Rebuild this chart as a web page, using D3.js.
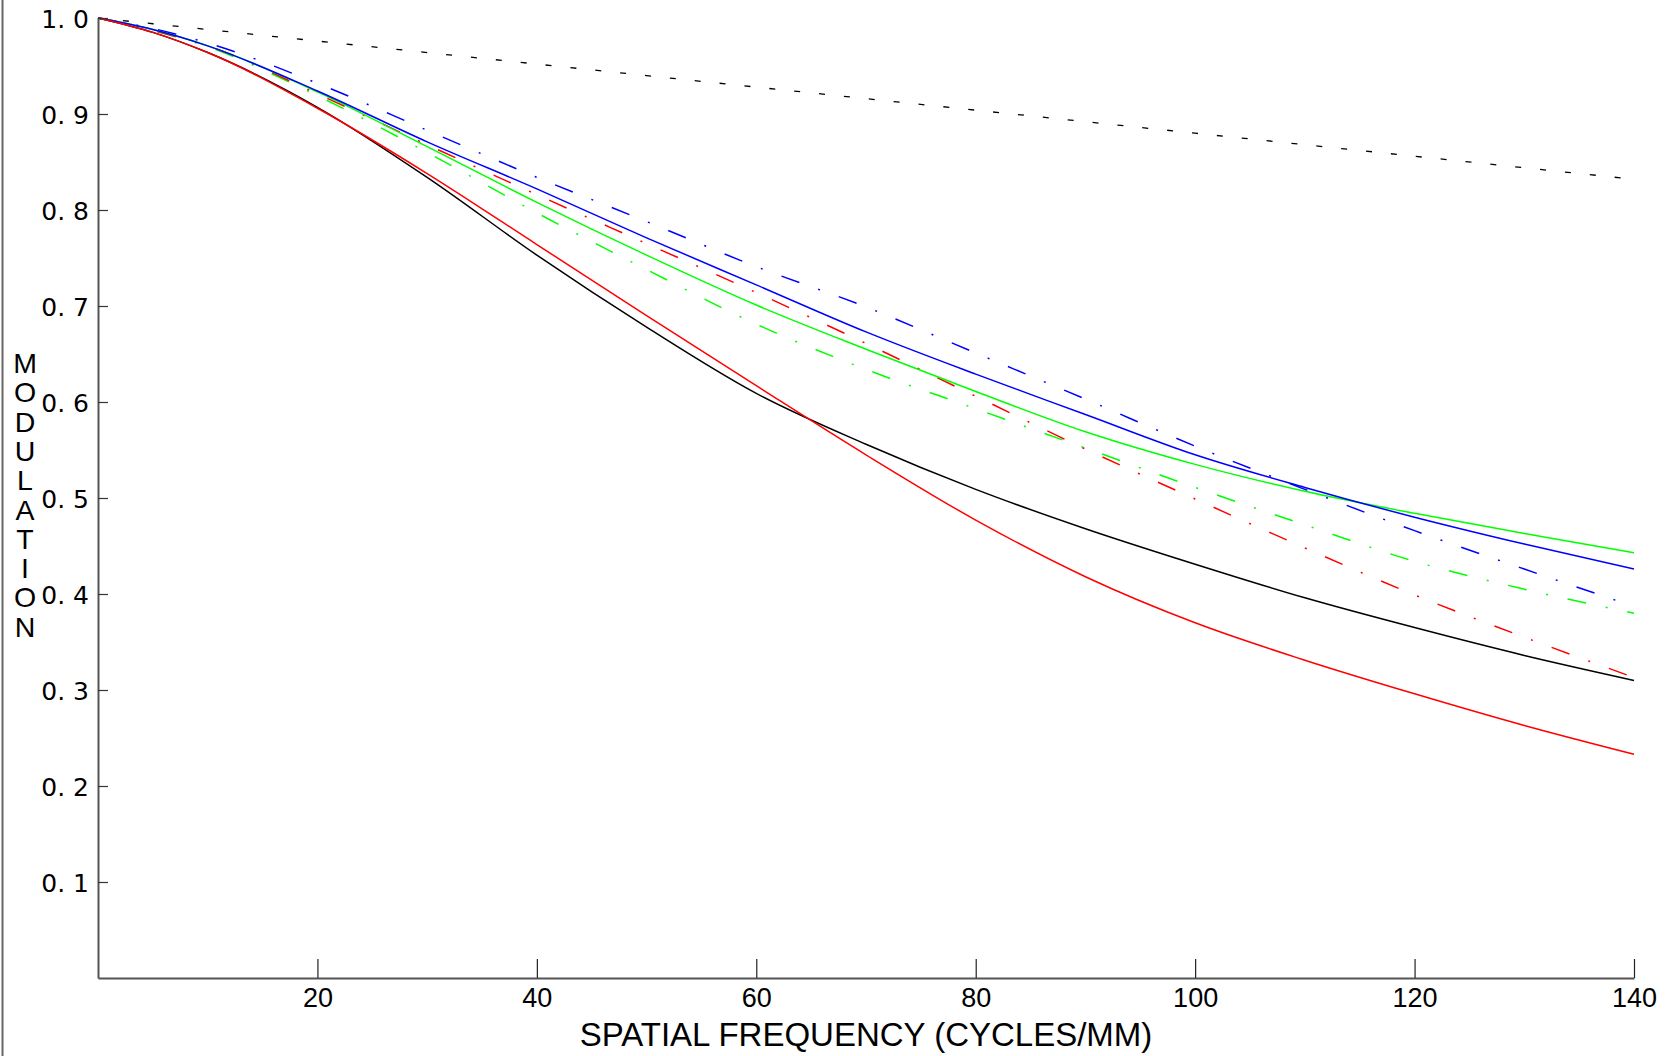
<!DOCTYPE html>
<html>
<head>
<meta charset="utf-8">
<script src="https://cdn.jsdelivr.net/npm/d3@7"></script>
<style>
  html, body { margin: 0; padding: 0; background: #fff; }
  svg { display: block; }
</style>
</head>
<body>
<div id="chart"></div>
<script>
// ---- data ----
const freqs = [0, 5, 10, 20, 30, 40, 50, 60, 70, 80, 90, 100, 110, 120, 130, 140];

const diffLimit   = [1.0, 0.994, 0.988, 0.976, 0.964, 0.952, 0.940, 0.928, 0.916, 0.904, 0.892, 0.880, 0.868, 0.856, 0.844, 0.832];
const blackSolid  = [1.0, 0.985, 0.964, 0.907, 0.834, 0.753, 0.678, 0.609, 0.556, 0.509, 0.468, 0.431, 0.396, 0.365, 0.336, 0.310];
const redSolid    = [1.0, 0.985, 0.964, 0.906, 0.838, 0.764, 0.690, 0.617, 0.545, 0.477, 0.418, 0.370, 0.331, 0.296, 0.263, 0.233];
const blueSolid   = [1.0, 0.988, 0.971, 0.924, 0.871, 0.822, 0.771, 0.722, 0.673, 0.629, 0.587, 0.545, 0.511, 0.480, 0.452, 0.426];
const greenSolid  = [1.0, 0.988, 0.971, 0.923, 0.866, 0.808, 0.753, 0.701, 0.655, 0.611, 0.569, 0.535, 0.507, 0.484, 0.463, 0.443];
const blueDashDot = [1.0, 0.989, 0.974, 0.932, 0.883, 0.834, 0.788, 0.741, 0.699, 0.651, 0.603, 0.554, 0.509, 0.466, 0.426, 0.387];
const redDashDot  = [1.0, 0.987, 0.971, 0.921, 0.868, 0.816, 0.765, 0.714, 0.661, 0.606, 0.551, 0.499, 0.448, 0.399, 0.355, 0.313];
const greenDashDot= [1.0, 0.987, 0.970, 0.919, 0.860, 0.797, 0.738, 0.681, 0.634, 0.593, 0.552, 0.511, 0.472, 0.434, 0.405, 0.380];

const xTicks = [20, 40, 60, 80, 100, 120, 140];
const yTicks = [0.1, 0.2, 0.3, 0.4, 0.5, 0.6, 0.7, 0.8, 0.9, 1.0];
const xTitle = "SPATIAL FREQUENCY (CYCLES/MM)";
const yTitle = "MODULATION";

const series = [
  { name: "diffraction", values: diffLimit,    color: "#000000", dash: "6,19",        width: 1.3 },
  { name: "greenDD",     values: greenDashDot, color: "#00ff00", dash: "19,20,2,20",  width: 1.5 },
  { name: "redDD",       values: redDashDot,   color: "#ff0000", dash: "19,20,2,20",  width: 1.5 },
  { name: "blueDD",      values: blueDashDot,  color: "#0000ff", dash: "19,20,2,20",  width: 1.5 },
  { name: "black",       values: blackSolid,   color: "#000000", dash: null,          width: 1.5 },
  { name: "green",       values: greenSolid,   color: "#00ff00", dash: null,          width: 1.5 },
  { name: "blue",        values: blueSolid,    color: "#0000ff", dash: null,          width: 1.5 },
  { name: "red",         values: redSolid,     color: "#ff0000", dash: null,          width: 1.5 }
];

// ---- layout ----
const W = 1669, H = 1056;
const x = d3.scaleLinear().domain([0, 140]).range([98, 1634]);
const y = d3.scaleLinear().domain([0, 1]).range([978, 18]);

const svg = d3.select("#chart").append("svg")
  .attr("width", W).attr("height", H)
  .attr("viewBox", `0 0 ${W} ${H}`);

// left frame edge
svg.append("line")
  .attr("x1", 2.5).attr("x2", 2.5).attr("y1", 0).attr("y2", H)
  .attr("stroke", "#666").attr("stroke-width", 2);

// curves
const line = d3.line()
  .x((d, i) => x(freqs[i]))
  .y(d => y(d))
  .curve(d3.curveMonotoneX);

svg.append("g").selectAll("path")
  .data(series)
  .join("path")
  .attr("d", d => line(d.values))
  .attr("fill", "none")
  .attr("stroke", d => d.color)
  .attr("stroke-width", d => d.width)
  .attr("stroke-dasharray", d => d.dash)
  .attr("stroke-linejoin", "round");

// x axis
const xAxis = d3.axisBottom(x)
  .tickValues(xTicks)
  .tickSizeInner(-19)
  .tickSizeOuter(0)
  .tickPadding(10)
  .tickFormat(d3.format("d"));

const gx = svg.append("g")
  .attr("transform", `translate(0,${y(0)})`)
  .call(xAxis);
gx.select(".domain").attr("stroke", "#555").attr("stroke-width", 2);
gx.selectAll(".tick line").attr("stroke", "#222").attr("stroke-width", 1.2);
gx.selectAll(".tick text")
  .attr("fill", "#000")
  .style("font-family", "'Liberation Sans', Arial, Helvetica, sans-serif")
  .style("font-size", "27px");

// y axis
const yAxis = d3.axisLeft(y)
  .tickValues(yTicks)
  .tickSizeInner(-10)
  .tickSizeOuter(0)
  .tickPadding(9)
  .tickFormat(d => d3.format(".1f")(d).replace(".", ". "));

const gy = svg.append("g")
  .attr("transform", `translate(${x(0)},0)`)
  .call(yAxis);
gy.select(".domain").attr("stroke", "#555").attr("stroke-width", 2);
gy.selectAll(".tick line").attr("stroke", "#333").attr("stroke-width", 1.2);
gy.selectAll(".tick text")
  .attr("fill", "#000")
  .attr("dy", "0.36em")
  .style("white-space", "pre")
  .style("font-family", "'DejaVu Sans', sans-serif")
  .style("font-size", "25px");

// x title
svg.append("text")
  .attr("x", (x(0) + x(140)) / 2)
  .attr("y", 1046)
  .attr("text-anchor", "middle")
  .style("font-family", "'Liberation Sans', Arial, Helvetica, sans-serif")
  .style("font-size", "33px")
  .attr("fill", "#000")
  .text(xTitle);

// y title: stacked letters
svg.append("g").selectAll("text")
  .data(yTitle.split(""))
  .join("text")
  .attr("x", 25)
  .attr("y", (d, i) => 373 + i * 29.3)
  .attr("text-anchor", "middle")
  .style("font-family", "'Liberation Sans', Arial, Helvetica, sans-serif")
  .style("font-size", "28.5px")
  .attr("fill", "#000")
  .text(d => d);
</script>
</body>
</html>
